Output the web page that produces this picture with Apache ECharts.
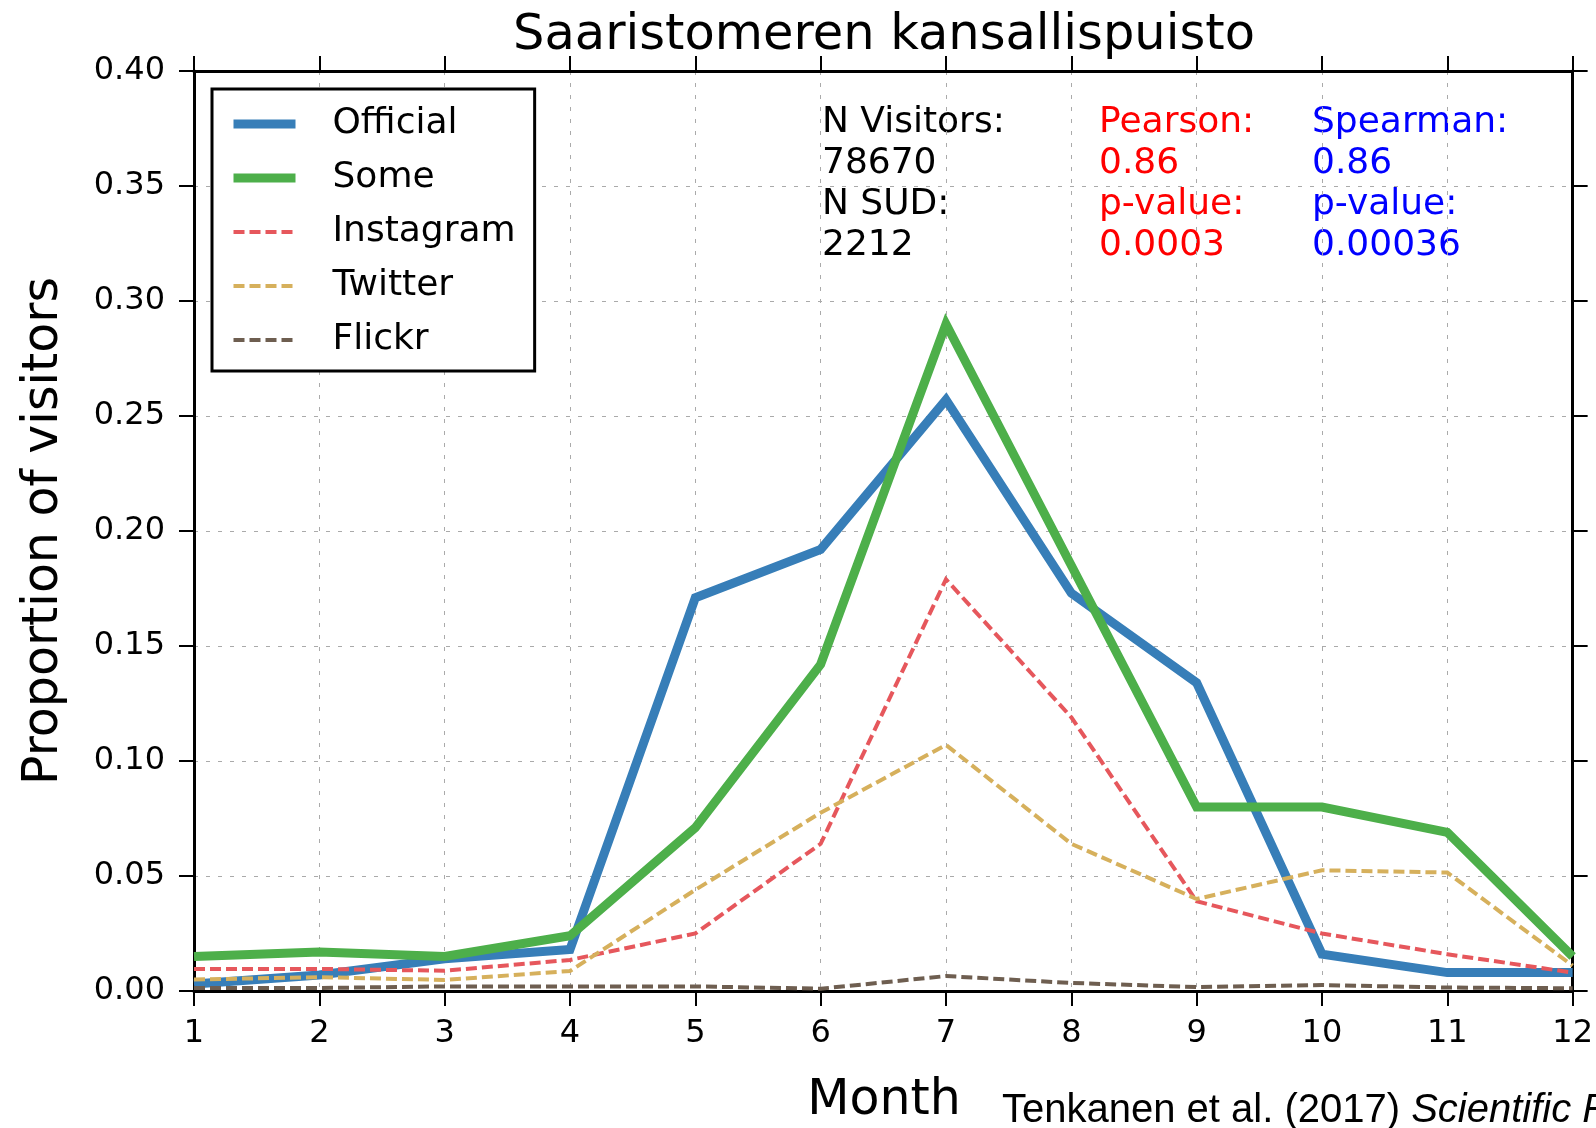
<!DOCTYPE html>
<html><head><meta charset="utf-8">
<script src="https://cdn.jsdelivr.net/npm/echarts@6/dist/echarts.min.js"></script>
<style>html,body{margin:0;padding:0;background:#fff}#c{width:1596px;height:1128px}</style>
</head><body><div id="c"></div>
<script>
var months = [1,2,3,4,5,6,7,8,9,10,11,12];
var official  = [0.003, 0.007, 0.014, 0.018, 0.171, 0.192, 0.257, 0.173, 0.134, 0.016, 0.008, 0.008];
var some      = [0.015, 0.017, 0.015, 0.024, 0.071, 0.142, 0.290, 0.185, 0.080, 0.080, 0.069, 0.015];
var instagram = [0.0096, 0.0096, 0.0088, 0.0135, 0.025, 0.064, 0.179, 0.119, 0.039, 0.025, 0.016, 0.008];
var twitter   = [0.005, 0.006, 0.0048, 0.0087, 0.044, 0.0775, 0.107, 0.064, 0.040, 0.0525, 0.0515, 0.011];
var flickr    = [0.0013, 0.0013, 0.002, 0.002, 0.002, 0.001, 0.0065, 0.0035, 0.0017, 0.0026, 0.0015, 0.0012];
var statsLeft  = ['N Visitors:', '78670', 'N SUD:', '2212'];
var statsMid   = ['Pearson:', '0.86', 'p-value:', '0.0003'];
var statsRight = ['Spearman:', '0.86', 'p-value:', '0.00036'];

function pairs(vals){ return months.map(function(m,i){ return [m, vals[i]]; }); }
var FONT = 'DejaVu Sans';
var chart = echarts.init(document.getElementById('c'), null, {renderer:'canvas'});

var axisLineStyle = {color:'#000', width:3};
var tickStyle = {show:true, inside:false, length:15, lineStyle:{color:'#000', width:2}};
var gridLine = {show:true, lineStyle:{color:'#aaaaaa', width:1, type:[4,8]}};

var colors = {Official:'#377eb8', Some:'#4daf4a', Instagram:'#e6575c', Twitter:'#d6b05c', Flickr:'#6e5e50'};

function lineSeries(name, vals, width, dashed){
  return {
    name:name, type:'line', data:pairs(vals), xAxisIndex:0, yAxisIndex:0,
    symbol:'none', smooth:false, animation:false,
    lineStyle:{color:colors[name], width:width, type: dashed ? [11,5] : 'solid', cap:'butt', join:'miter'},
    itemStyle:{color:colors[name]}
  };
}

function legendItem(name, width, dashed){
  return {name:name, itemStyle:{opacity:0, borderWidth:0},
    lineStyle:{color:colors[name], width:width, type: dashed ? [11,5] : 'solid', opacity:1}};
}

function statText(lines, x, color){
  return lines.map(function(t,i){
    return {type:'text', x:x, y:123 + i*41, style:{text:t, fill:color, font:'36px "DejaVu Sans"', textVerticalAlign:'middle'}};
  });
}

var graphics = [
  {type:'text', x:884, y:36, style:{text:'Saaristomeren kansallispuisto', fill:'#000', font:'49.5px "DejaVu Sans"', textAlign:'center', textVerticalAlign:'middle'}},
  {type:'text', x:884, y:1101, style:{text:'Month', fill:'#000', font:'49px "DejaVu Sans"', textAlign:'center', textVerticalAlign:'middle'}},
  {type:'text', x:44, y:531, rotation:Math.PI/2, style:{text:'Proportion of visitors', fill:'#000', font:'49px "DejaVu Sans"', textAlign:'center', textVerticalAlign:'middle'}},
  {type:'text', x:1002, y:1131, style:{
    text:'{n|Tenkanen et al. (2017) }{i|Scientific Reports}',
    textVerticalAlign:'bottom',
    rich:{
      n:{font:'40px "Liberation Sans"', fill:'#000'},
      i:{font:'italic 40px "Liberation Sans"', fill:'#000'}
    }
  }}
].concat(statText(statsLeft, 822, '#000'))
 .concat(statText(statsMid, 1099, '#ff0000'))
 .concat(statText(statsRight, 1312, '#0000ff'));

chart.setOption({
  animation:false,
  backgroundColor:'#fff',
  grid:{left:194, right:22, top:71, bottom:137, containLabel:false},
  legend:{
    orient:'vertical', left:212, top:89,
    backgroundColor:'#fff', borderColor:'#000', borderWidth:3, borderRadius:0,
    padding:[17,19,13,17], itemGap:18, itemWidth:62, itemHeight:14,
    textStyle:{fontFamily:FONT, fontSize:36, color:'#000', padding:[0,0,0,32]},
    data:[legendItem('Official',9,false), legendItem('Some',9,false),
          legendItem('Instagram',4,true), legendItem('Twitter',4,true), legendItem('Flickr',4,true)]
  },
  xAxis:[
    {type:'value', min:1, max:12, interval:1, position:'bottom',
     axisLine:{show:true, onZero:false, lineStyle:axisLineStyle},
     axisTick:tickStyle, splitLine:gridLine,
     axisLabel:{show:true, margin:27, fontFamily:FONT, fontSize:32, color:'#000'}},
    {type:'value', min:1, max:12, interval:1, position:'top',
     axisLine:{show:true, onZero:false, lineStyle:axisLineStyle},
     axisTick:tickStyle, splitLine:{show:false}, axisLabel:{show:false}}
  ],
  yAxis:[
    {type:'value', min:0, max:0.4, interval:0.05, position:'left',
     axisLine:{show:true, onZero:false, lineStyle:axisLineStyle},
     axisTick:tickStyle, splitLine:gridLine,
     axisLabel:{show:true, margin:29, fontFamily:FONT, fontSize:32, color:'#000',
       formatter:function(v){ return v.toFixed(2); }}},
    {type:'value', min:0, max:0.4, interval:0.05, position:'right',
     axisLine:{show:true, onZero:false, lineStyle:axisLineStyle},
     axisTick:tickStyle, splitLine:{show:false}, axisLabel:{show:false}}
  ],
  series:[
    lineSeries('Official', official, 9, false),
    lineSeries('Some', some, 9, false),
    lineSeries('Instagram', instagram, 4, true),
    lineSeries('Twitter', twitter, 4, true),
    lineSeries('Flickr', flickr, 4, true)
  ],
  graphic:graphics
});
</script></body></html>
